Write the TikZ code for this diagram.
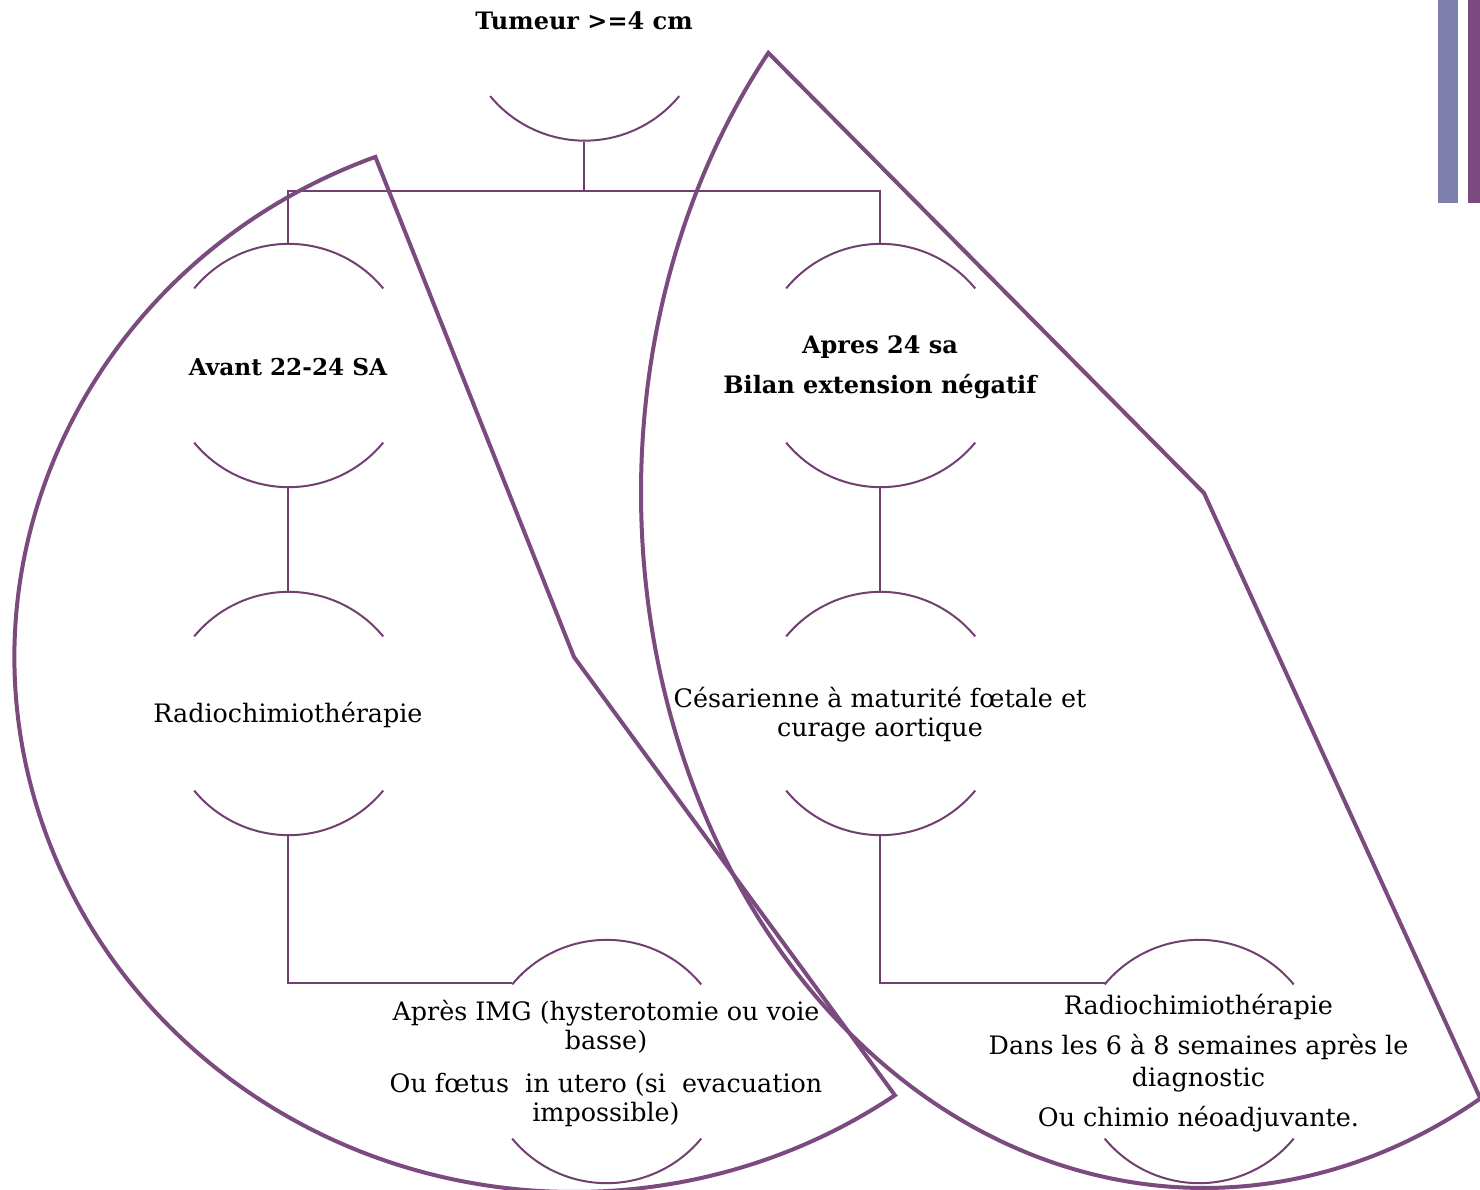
\documentclass[tikz,border=0pt]{standalone}
\usepackage{fontspec}
\setmainfont{DejaVu Serif}
\definecolor{treecol}{RGB}{112,64,112}
\definecolor{bigcol}{RGB}{123,74,126}
\definecolor{barblue}{RGB}{127,127,173}
\definecolor{barpurple}{RGB}{123,74,126}
\begin{document}
\begin{tikzpicture}[x=0.5pt,y=-0.5pt,
  treeline/.style={draw=treecol, line width=1pt},
  bigline/.style={draw=bigcol, line width=2pt, line join=miter},
  circ/.style={circle, minimum size=122.5pt, inner sep=0pt, outer sep=0pt},
  titletxt/.style={font=\bfseries\fontsize{12}{20}\selectfont, align=center, inner sep=0pt},
  bodytxt/.style={font=\fontsize{12.7}{14.5}\selectfont, align=center, inner sep=0pt}]
\useasboundingbox (0,0) rectangle (1480,1190);
\fill[white] (0,0) rectangle (1480,1190);
% bars
\fill[barblue] (1438,0) rectangle (1458,203);
\fill[barpurple] (1468,0) rectangle (1480,203);
% node circles
\node[circ] (tum) at (584,19) {};
\node[circ] (avant) at (288,365.5) {};
\node[circ] (apres) at (880,365.5) {};
\node[circ] (radL) at (288,713.5) {};
\node[circ] (ces) at (880,713.5) {};
\node[circ] (img) at (606,1061.5) {};
\node[circ] (radR) at (1198.5,1061.5) {};
% arcs
\draw[treeline] (tum.-39.5) arc[start angle=-39.5, end angle=-140.5, radius=61.25pt];
\foreach \n in {avant,apres,radL,ces,img,radR}{
  \draw[treeline] (\n.39.5) arc[start angle=39.5, end angle=140.5, radius=61.25pt];
  \draw[treeline] (\n.-39.5) arc[start angle=-39.5, end angle=-140.5, radius=61.25pt];
}
% connectors
\coordinate (bus) at (584,191);
\draw[treeline] (tum.south) -- (bus);
\draw[treeline] (avant.north) -- (avant.north |- bus) -- (apres.north |- bus) -- (apres.north);
\draw[treeline] (avant.south) -- (radL.north);
\draw[treeline] (apres.south) -- (ces.north);
\draw[treeline] (radL.south) -- (radL.south |- img.140.5) -- (img.140.5);
\draw[treeline] (ces.south) -- (ces.south |- radR.140.5) -- (radR.140.5);
% big shapes
\coordinate (cL) at (574,657);
\draw[bigline] (cL) ++(110.8:279.75pt and 267.5pt) arc[start angle=110.8, end angle=305, x radius=279.75pt, y radius=267.5pt] -- (cL) -- cycle;
\coordinate (cR) at (1204,493);
\draw[bigline] (cR) ++(140.7:281.5pt and 347.5pt) arc[start angle=140.7, end angle=299.4, x radius=281.5pt, y radius=347.5pt] -- (cR) -- cycle;
% texts
\node[titletxt] (ttum) at (584,21) {Tumeur >=4 cm};
\node[titletxt, font=\bfseries\fontsize{11.6}{20}\selectfont] (tav) at (288,367) {Avant 22-24 SA};
\node[titletxt] (tap) at (880,367) {Apres 24 sa\\Bilan extension négatif};
\node[bodytxt] (trl) at (288,715) {Radiochimiothérapie};
\node[bodytxt] (tces) at (880,715) {Césarienne à maturité fœtale et\\curage aortique};
\node[bodytxt] (timg) at (606,1063) {Après IMG (hysterotomie ou voie\\basse)\\[7pt]Ou fœtus~ in utero (si~ evacuation\\impossible)};
\node[bodytxt, font=\fontsize{12.7}{16}\selectfont] (trr) at (1198.5,1063) {Radiochimiothérapie\\[4pt]Dans les 6 à 8 semaines après le\\diagnostic\\[4pt]Ou chimio néoadjuvante.};
\end{tikzpicture}
\end{document}
